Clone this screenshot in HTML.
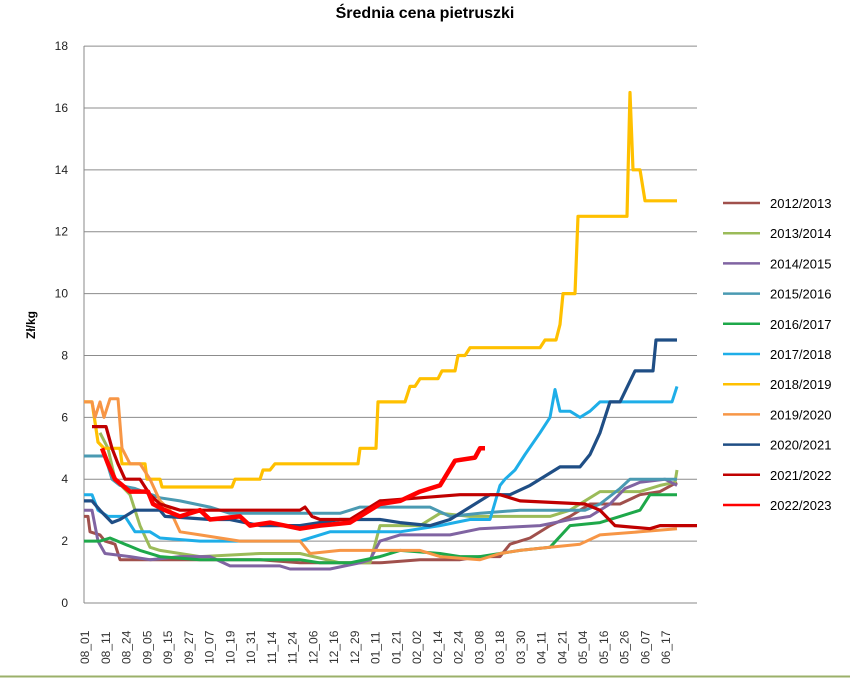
<!DOCTYPE html><html><head><meta charset="utf-8"><style>body{margin:0;background:#fff}svg{display:block}text{font-family:"Liberation Sans",sans-serif}</style></head><body>
<svg id="s" width="850" height="678" xmlns="http://www.w3.org/2000/svg">
<rect width="850" height="678" fill="#fff"/>
<line x1="0" y1="676.5" x2="850" y2="676.5" stroke="#9bb06a" stroke-width="2"/>
<text x="425" y="18" text-anchor="middle" font-size="16" font-weight="bold" fill="#000">Średnia cena pietruszki</text>
<text transform="translate(35,325) rotate(-90)" text-anchor="middle" font-size="12" font-weight="bold">Zł/kg</text>
<g id="grid"></g><g id="ser" fill="none" stroke-linejoin="round"></g><g id="leg"></g>
</svg>
<script>
const S=document.getElementById('s'),NS='http://www.w3.org/2000/svg';
function el(t,a,p,txt){const e=document.createElementNS(NS,t);for(const k in a)e.setAttribute(k,a[k]);if(txt!==undefined)e.textContent=txt;(p||S).appendChild(e);return e;}
const Y=v=>603-30.94*v;
const g=document.getElementById('grid');
for(let v=0;v<=18;v+=2){el('line',{x1:84,x2:697,y1:Y(v),y2:Y(v),stroke:v?'#8c8c8c':'#888','stroke-width':1},g);
el('text',{x:68,y:Y(v)+4,'text-anchor':'end','font-size':12,fill:'#222'},g,v);}
el('line',{x1:84,x2:84,y1:46,y2:603,stroke:'#888'},g);
const labs="08_01 08_11 08_24 09_05 09_15 09_27 10_07 10_19 10_31 11_14 11_24 12_06 12_16 12_29 01_11 01_21 02_02 02_14 02_24 03_08 03_18 03_30 04_11 04_21 05_04 05_16 05_26 06_07 06_17".split(' ');
labs.forEach((l,i)=>{const x=89+i*20.75;el('text',{transform:`translate(${x},664) rotate(-90)`,'font-size':12,fill:'#333'},g,l);});
const D=[
["2012/2013","#a0504c",3,[[84,2.8],[88,2.8],[90,2.3],[100,2.2],[105,2.0],[115,1.9],[120,1.4],[160,1.4],[200,1.4],[260,1.4],[300,1.3],[330,1.3],[380,1.3],[420,1.4],[460,1.4],[480,1.5],[500,1.5],[510,1.9],[530,2.1],[550,2.5],[570,2.8],[590,3.2],[620,3.2],[640,3.5],[660,3.6],[677,3.9]]],
["2013/2014","#9bbb59",3,[[100,5.5],[108,5.0],[115,4.0],[130,3.5],[140,2.5],[150,1.8],[160,1.7],[200,1.5],[260,1.6],[300,1.6],[340,1.3],[370,1.3],[380,2.5],[420,2.5],[440,2.9],[470,2.8],[520,2.8],[550,2.8],[570,3.0],[600,3.6],[640,3.6],[660,3.8],[675,3.9],[677,4.3]]],
["2014/2015","#8064a2",3,[[84,3.0],[92,3.0],[98,2.0],[105,1.6],[130,1.5],[150,1.4],[180,1.5],[210,1.5],[230,1.2],[280,1.2],[290,1.1],[330,1.1],[345,1.2],[360,1.3],[370,1.4],[380,2.0],[400,2.2],[450,2.2],[480,2.4],[540,2.5],[555,2.6],[570,2.7],[590,2.8],[610,3.2],[625,3.7],[640,3.9],[665,4.0],[677,3.8]]],
["2015/2016","#4a9ab2",3,[[84,4.75],[105,4.75],[112,4.0],[120,3.8],[135,3.7],[160,3.4],[180,3.3],[210,3.1],[230,2.9],[340,2.9],[360,3.1],[430,3.1],[450,2.8],[480,2.9],[520,3.0],[585,3.0],[600,3.2],[620,3.7],[630,4.0],[677,4.0]]],
["2016/2017","#1ea84a",3,[[84,2.0],[100,2.0],[110,2.1],[125,1.9],[140,1.7],[160,1.5],[200,1.4],[300,1.4],[320,1.3],[350,1.3],[380,1.5],[400,1.7],[440,1.6],[460,1.5],[480,1.5],[500,1.6],[520,1.7],[550,1.8],[570,2.5],[600,2.6],[620,2.8],[640,3.0],[650,3.5],[677,3.5]]],
["2017/2018","#1eaee8",3,[[84,3.5],[92,3.5],[98,3.0],[108,2.8],[125,2.8],[135,2.3],[150,2.3],[160,2.1],[200,2.0],[300,2.0],[330,2.3],[400,2.3],[440,2.5],[470,2.7],[490,2.7],[500,3.8],[505,4.0],[515,4.3],[525,4.8],[540,5.5],[550,6.0],[555,6.9],[560,6.2],[570,6.2],[580,6.0],[590,6.2],[600,6.5],[672,6.5],[677,7.0]]],
["2018/2019","#ffc000",3.2,[[84,6.5],[92,6.5],[98,5.2],[104,5.0],[120,5.0],[122,4.5],[145,4.5],[147,4.0],[160,4.0],[162,3.75],[232,3.75],[235,4.0],[260,4.0],[263,4.3],[270,4.3],[275,4.5],[358,4.5],[360,5.0],[376,5.0],[378,6.5],[405,6.5],[410,7.0],[415,7.0],[420,7.25],[438,7.25],[442,7.5],[455,7.5],[458,8.0],[465,8.0],[470,8.25],[540,8.25],[545,8.5],[556,8.5],[560,9.0],[563,10.0],[575,10.0],[578,12.5],[627,12.5],[630,16.5],[633,14.0],[640,14.0],[645,13.0],[677,13.0]]],
["2019/2020","#f79646",3,[[84,6.5],[92,6.5],[95,6.0],[100,6.5],[104,6.0],[110,6.6],[118,6.6],[122,5.0],[130,4.5],[140,4.5],[150,4.0],[160,3.3],[170,3.0],[180,2.3],[200,2.2],[240,2.0],[300,2.0],[310,1.6],[340,1.7],[420,1.7],[440,1.5],[480,1.4],[500,1.6],[520,1.7],[550,1.8],[580,1.9],[600,2.2],[640,2.3],[677,2.4]]],
["2020/2021","#1f4e85",3.2,[[84,3.3],[92,3.3],[100,3.0],[112,2.6],[120,2.7],[135,3.0],[160,3.0],[165,2.8],[210,2.7],[230,2.7],[260,2.5],[300,2.5],[340,2.7],[380,2.7],[400,2.6],[430,2.5],[450,2.7],[490,3.5],[510,3.5],[530,3.8],[560,4.4],[580,4.4],[590,4.8],[600,5.5],[610,6.5],[620,6.5],[635,7.5],[653,7.5],[656,8.5],[677,8.5]]],
["2021/2022","#c00000",3.2,[[92,5.7],[106,5.7],[112,5.0],[118,4.5],[125,4.0],[140,4.0],[150,3.5],[160,3.2],[180,3.0],[300,3.0],[305,3.1],[312,2.8],[320,2.7],[350,2.7],[380,3.3],[420,3.4],[460,3.5],[500,3.5],[520,3.3],[585,3.2],[600,3.0],[615,2.5],[650,2.4],[660,2.5],[697,2.5]]],
["2022/2023","#ff0000",4.5,[[102,5.0],[108,4.5],[115,4.0],[130,3.6],[148,3.6],[153,3.2],[165,3.0],[180,2.8],[200,3.0],[210,2.7],[240,2.8],[250,2.5],[270,2.6],[300,2.4],[320,2.5],[350,2.6],[380,3.2],[400,3.3],[420,3.6],[440,3.8],[455,4.6],[475,4.7],[480,5.0],[485,5.0]]]
];
const ser=document.getElementById('ser'),lg=document.getElementById('leg');
D.forEach((d,i)=>{el('polyline',{points:d[3].map(p=>p[0]+','+Y(p[1]).toFixed(1)).join(' '),stroke:d[1],'stroke-width':d[2]},ser);
const y=203+i*30.2;el('line',{x1:723,x2:760,y1:y,y2:y,stroke:d[1],'stroke-width':2.5},lg);
el('text',{x:770,y:y+5,'font-size':13},lg,d[0]);});
</script>
</body></html>
